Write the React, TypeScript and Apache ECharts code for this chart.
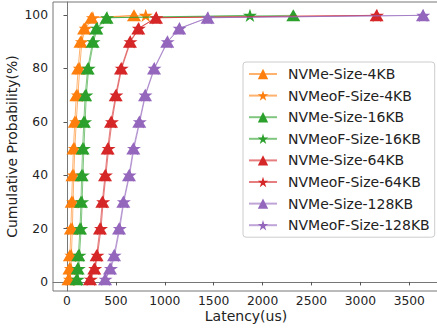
import React, { useEffect, useRef } from "react";
import * as echarts from "echarts";

const levels = [1, 5, 10, 20, 30, 40, 50, 60, 70, 80, 90, 95, 99, 99.9];
const xTicks = [0, 500, 1000, 1500, 2000, 2500, 3000, 3500];
const yTicks = [0, 20, 40, 60, 80, 100];

const nvme4 = [15, 25, 30, 40, 48, 56, 66, 80, 96, 114, 138, 175, 250, 685];
const nvmeof4 = [30, 40, 45, 55, 62, 70, 80, 95, 112, 130, 152, 190, 265, 805];
const nvme16 = [99, 109, 116, 133, 143, 150, 160, 172, 186, 212, 262, 300, 405, 2314];
const nvmeof16 = [110, 120, 128, 145, 155, 163, 173, 185, 198, 222, 272, 310, 410, 1871];
const nvme64 = [235, 279, 303, 337, 361, 389, 416, 450, 498, 552, 644, 729, 910, 3166];
const nvmeof64 = [245, 288, 312, 348, 370, 398, 426, 460, 505, 560, 650, 735, 915, 3170];
const nvme128 = [389, 440, 481, 532, 576, 634, 678, 739, 798, 890, 1025, 1148, 1438, 3640];
const nvmeof128 = [395, 450, 488, 540, 582, 640, 685, 745, 803, 895, 1030, 1152, 1442, 3643];

const seriesNames = [
  "NVMe-Size-4KB",
  "NVMeoF-Size-4KB",
  "NVMe-Size-16KB",
  "NVMeoF-Size-16KB",
  "NVMe-Size-64KB",
  "NVMeoF-Size-64KB",
  "NVMe-Size-128KB",
  "NVMeoF-Size-128KB",
];
const seriesX = [nvme4, nvmeof4, nvme16, nvmeof16, nvme64, nvmeof64, nvme128, nvmeof128];
const colors = ["#ff7f0e", "#ff7f0e", "#2ca02c", "#2ca02c", "#d62728", "#d62728", "#9467bd", "#9467bd"];

const STAR =
  "path://M0,-1 L-0.2245,-0.309 L-0.9511,-0.309 L-0.3633,0.118 L-0.5878,0.809 L0,0.382 L0.5878,0.809 L0.3633,0.118 L0.9511,-0.309 L0.2245,-0.309 Z";

export default function App() {
  const ref = useRef<HTMLDivElement>(null);
  useEffect(() => {
    if (!ref.current) return;
    const chart = echarts.init(ref.current, null, { renderer: "svg" });
    const font = "DejaVu Sans";
    const series = seriesNames.map((name, i) => {
      const isStar = i % 2 === 1;
      return {
        name,
        type: "line",
        data: seriesX[i].map((x, j) => [x, levels[j]]),
        symbol: isStar ? STAR : "triangle",
        symbolSize: isStar ? 14 : [14, 12],
        symbolKeepAspect: true,
        showSymbol: true,
        color: colors[i],
        itemStyle: { color: colors[i], opacity: 1 },
        lineStyle: { color: colors[i], width: 1, opacity: 0.6 },
        z: 2 + i,
      };
    });
    chart.setOption({
      animation: false,
      textStyle: { fontFamily: font },
      grid: {
        left: 53,
        top: 2,
        right: -2,
        bottom: 40,
        containLabel: false,
        outerBoundsMode: "none",
        show: true,
        borderColor: "#777",
        borderWidth: 1,
        backgroundColor: "transparent",
      },
      xAxis: {
        type: "value",
        min: -143,
        max: 3804,
        name: "Latency(us)",
        nameLocation: "middle",
        nameGap: 18,
        nameMoveOverlap: false,
        nameTextStyle: { fontSize: 14, color: "#222", fontFamily: font },
        axisLine: { show: true, lineStyle: { color: "#777", width: 1 } },
        axisTick: { show: true, length: 3.5, customValues: xTicks, lineStyle: { color: "#555" } },
        axisLabel: {
          customValues: xTicks,
          formatter: (v: number) => String(v),
          fontSize: 12.3,
          color: "#222",
          margin: 4,
          fontFamily: font,
        },
        splitLine: { show: false },
      },
      yAxis: {
        type: "value",
        min: -3.4,
        max: 104.9,
        name: "Cumulative Probability(%)",
        nameLocation: "middle",
        nameGap: 34,
        nameMoveOverlap: false,
        nameTextStyle: { fontSize: 14, color: "#222", fontFamily: font },
        axisLine: { show: true, lineStyle: { color: "#777", width: 1 } },
        axisTick: { show: true, length: 3.5, customValues: yTicks, lineStyle: { color: "#555" } },
        axisLabel: {
          customValues: yTicks,
          formatter: (v: number) => String(v),
          fontSize: 12.3,
          color: "#222",
          margin: 5,
          fontFamily: font,
        },
        splitLine: { show: false },
      },
      legend: {
        orient: "vertical",
        left: 243,
        top: 62,
        padding: [5, 5, 5, 5],
        itemWidth: 28,
        itemHeight: 13,
        itemGap: 7.6,
        backgroundColor: "rgba(255,255,255,0.85)",
        borderColor: "#ccc",
        borderWidth: 1,
        borderRadius: 3,
        textStyle: { fontSize: 14, color: "#222", fontFamily: font, padding: [0, 0, 0, 6] },
        data: seriesNames,
      },
      series,
    });
    return () => chart.dispose();
  }, []);
  return (
    <div
      ref={ref}
      style={{ position: "fixed", left: 0, top: 0, width: 437, height: 331, background: "#fff" }}
    />
  );
}
